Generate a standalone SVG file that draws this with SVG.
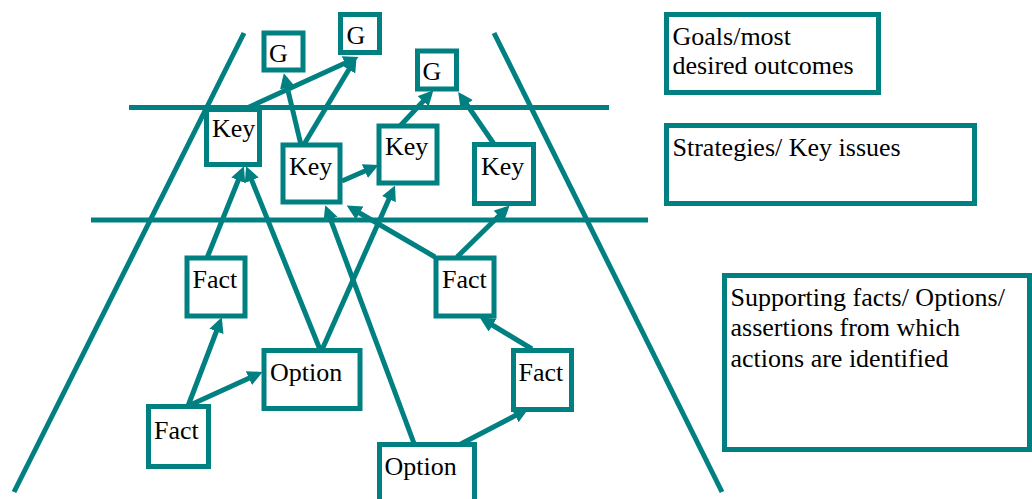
<svg xmlns="http://www.w3.org/2000/svg" width="1032" height="499" viewBox="0 0 1032 499">
<defs>
<style>
.bg{stroke:#008080;stroke-width:5;fill:none}
.c{stroke:#008080;stroke-width:5;fill:none;marker-end:url(#ah)}
.box{fill:#fff;stroke:#008080;stroke-width:5}
</style>
<marker id="ah" markerUnits="userSpaceOnUse" markerWidth="16" markerHeight="16" refX="10" refY="7.5" orient="auto">
<path d="M0,0 L15,7.5 L0,15 z" fill="#008080"/>
</marker>
</defs>
<rect width="1032" height="499" fill="#fff"/>
<g id="frame">
<line class="bg" x1="244" y1="33" x2="14" y2="492"/>
<line class="bg" x1="494" y1="33" x2="722" y2="492"/>
<line class="bg" x1="129" y1="107.5" x2="609" y2="107.5"/>
<line class="bg" x1="91" y1="220" x2="648" y2="220"/>
</g>
<g id="connectors">
<line class="c" x1="247" y1="108" x2="354" y2="59"/>
<line class="c" x1="303" y1="146" x2="354" y2="61"/>
<line class="c" x1="301" y1="145" x2="285" y2="78"/>
<line class="c" x1="400" y1="126" x2="430" y2="94"/>
<line class="c" x1="494" y1="144" x2="461" y2="96"/>
<line class="c" x1="342" y1="181" x2="374" y2="167"/>
<line class="c" x1="207" y1="258" x2="242" y2="171"/>
<line class="c" x1="321" y1="352" x2="248" y2="171"/>
<line class="c" x1="321" y1="352" x2="393" y2="190"/>
<line class="c" x1="415" y1="446" x2="327" y2="210"/>
<line class="c" x1="435" y1="257" x2="351" y2="208"/>
<line class="c" x1="457" y1="257" x2="506" y2="209"/>
<line class="c" x1="532" y1="349" x2="484" y2="320"/>
<line class="c" x1="457" y1="446" x2="524" y2="411"/>
<line class="c" x1="188" y1="406" x2="220" y2="322"/>
<line class="c" x1="188" y1="406" x2="258" y2="374"/>
</g>
<g font-family="'Times New Roman', 'Liberation Serif', serif" font-size="26" fill="#000">
<g id="g1"><rect class="box" x="264" y="33" width="39" height="37"/><text x="269" y="62">G</text></g>
<g id="g2"><rect class="box" x="340.5" y="14.5" width="39" height="38"/><text x="346.5" y="44">G</text></g>
<g id="g3"><rect class="box" x="417.5" y="51" width="39" height="38"/><text x="422.5" y="80">G</text></g>
<g id="key1"><rect class="box" x="206.5" y="109.5" width="53" height="55"/><text x="212" y="137">Key</text></g>
<g id="key2"><rect class="box" x="283" y="145" width="57" height="57"/><text x="289" y="175">Key</text></g>
<g id="key3"><rect class="box" x="379" y="126" width="58" height="57"/><text x="385" y="155">Key</text></g>
<g id="key4"><rect class="box" x="474.5" y="144.5" width="59" height="59"/><text x="481" y="174.5">Key</text></g>
<g id="fact1"><rect class="box" x="187" y="258" width="58" height="58"/><text x="192.5" y="288">Fact</text></g>
<g id="fact2"><rect class="box" x="148.5" y="406.5" width="60" height="60"/><text x="154" y="438.5">Fact</text></g>
<g id="fact3"><rect class="box" x="436" y="258" width="58" height="58"/><text x="442" y="288">Fact</text></g>
<g id="fact4"><rect class="box" x="513.5" y="350.5" width="58" height="59"/><text x="518.5" y="381">Fact</text></g>
<g id="option1"><rect class="box" x="264" y="350.5" width="96" height="58"/><text x="270" y="381">Option</text></g>
<g id="option2"><rect class="box" x="379.5" y="444.5" width="95" height="62"/><text x="384.5" y="475">Option</text></g>
<g id="legend-goals"><rect class="box" x="666.5" y="14.5" width="212" height="78"/><text x="672.5" y="44.5">Goals/most</text><text x="672.5" y="74">desired outcomes</text></g>
<g id="legend-strategies"><rect class="box" x="666.5" y="125.5" width="308" height="78"/><text x="672.5" y="155.5">Strategies/ Key issues</text></g>
<g id="legend-supporting"><rect class="box" x="724.5" y="275.5" width="305" height="174"/><text x="730.5" y="305.5">Supporting facts/ Options/</text><text x="730.5" y="336">assertions from which</text><text x="730.5" y="366.5">actions are identified</text></g>
</g>
</svg>
